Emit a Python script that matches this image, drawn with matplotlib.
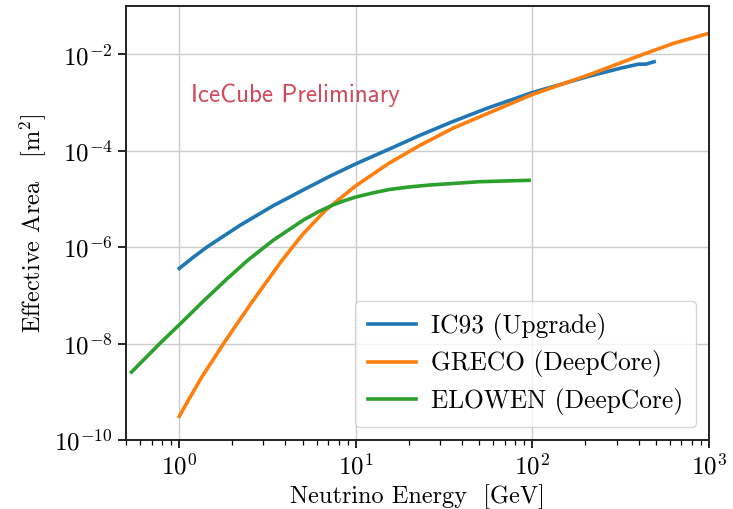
import numpy as np
import matplotlib
matplotlib.use("Agg")
import matplotlib.pyplot as plt
from matplotlib.ticker import NullLocator

plt.rcParams['font.family'] = 'serif'
plt.rcParams['font.serif'] = ['cmr10']
plt.rcParams['mathtext.fontset'] = 'cm'
plt.rcParams['axes.formatter.use_mathtext'] = True

# effective areas [m^2] vs neutrino energy [GeV]
ic93_energy = [1.0, 1.2, 1.43, 2.2, 3.4, 5.1, 7.1, 10, 16, 23, 35, 56, 100,
               210, 320, 400, 440, 490]
ic93_area = [3.63e-7, 6.17e-7, 1.0e-6, 2.82e-6, 7.24e-6, 1.58e-5, 2.95e-5,
             5.37e-5, 1.15e-4, 2.09e-4, 3.98e-4, 7.76e-4, 1.62e-3, 3.55e-3,
             5.25e-3, 6.31e-3, 6.31e-3, 7.08e-3]

greco_energy = [1.0, 1.15, 1.34, 1.82, 2.57, 3.8, 5.0, 6.76, 10, 15.5, 23,
                35.5, 100, 210, 400, 630, 1000]
greco_area = [3.09e-10, 7.6e-10, 2.0e-9, 1.12e-8, 7.1e-8, 5.2e-7, 1.85e-6,
              5.9e-6, 1.88e-5, 5.6e-5, 1.29e-4, 2.95e-4, 1.48e-3, 3.8e-3,
              9.3e-3, 1.7e-2, 2.75e-2]

elowen_energy = [0.537, 0.79, 1.0, 1.37, 1.86, 2.45, 3.42, 5.07, 6.17, 7.35,
                 8.5, 10, 12.6, 15.5, 20, 26, 50, 96]
elowen_area = [2.57e-9, 1.07e-8, 2.45e-8, 7.6e-8, 2.19e-7, 5.4e-7, 1.41e-6,
               3.7e-6, 5.5e-6, 7.4e-6, 9.1e-6, 1.1e-5, 1.35e-5, 1.58e-5,
               1.78e-5, 1.95e-5, 2.29e-5, 2.45e-5]

labels = ['IC93 (Upgrade)', 'GRECO (DeepCore)', 'ELOWEN (DeepCore)']

fig = plt.figure(figsize=(7.33, 5.09), dpi=100)
ax = fig.add_axes([0.172, 0.1356, 0.795, 0.852])

ax.plot(ic93_energy, ic93_area, color='tab:blue', lw=2.6, label=labels[0])
ax.plot(greco_energy, greco_area, color='tab:orange', lw=2.6, label=labels[1])
ax.plot(elowen_energy, elowen_area, color='tab:green', lw=2.6, label=labels[2])

ax.set_xscale('log')
ax.set_yscale('log')
ax.set_xlim(0.5, 1000)
ax.set_ylim(1e-10, 1e-1)
ax.set_yticks([1e-10, 1e-8, 1e-6, 1e-4, 1e-2])
ax.yaxis.set_minor_locator(NullLocator())

ax.grid(True, which='major', color='#cccccc', lw=1.0)
ax.tick_params(axis='both', which='major', labelsize=18, length=6, width=1.2)
ax.tick_params(axis='x', which='minor', length=3.5, width=0.9)
for sp in ax.spines.values():
    sp.set_linewidth(1.4)
    sp.set_color('#222222')

ax.set_xlabel('Neutrino Energy  [GeV]', fontsize=17.5)
ax.set_ylabel(r'Effective Area   [m$^2$]', fontsize=17.5)

ax.text(1.17, 10**-2.85, 'IceCube Preliminary', color='#d1495b',
        fontsize=18, family='cmss10', va='center', ha='left')

ax.legend(loc='lower right', fontsize=18.3, handlelength=1.9,
          handletextpad=0.6, framealpha=0.8, borderpad=0.5,
          labelspacing=0.4, borderaxespad=0.5)

fig.savefig('out.png', dpi=100)
